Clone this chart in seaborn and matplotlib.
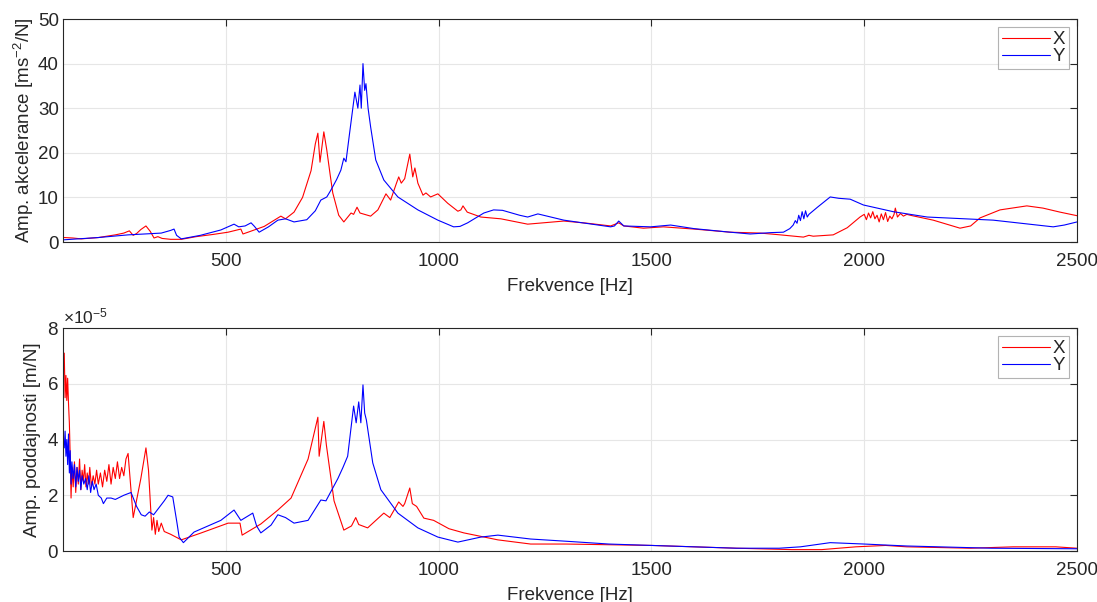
import numpy as np
import pandas as pd
import matplotlib
matplotlib.use("Agg")
import matplotlib.pyplot as plt
import seaborn as sns

# top panel - accelerance, X direction (red)
acc_x_f = [120, 140, 160, 200, 240, 260, 273, 282, 290, 300, 312, 322, 331, 340, 350, 370, 395, 430,
           470, 505, 535, 540, 552, 590, 629, 640, 660, 680, 700, 710, 716, 721, 730, 737, 745, 751,
           765, 777, 794, 800, 808, 815, 840, 857, 876, 887, 900, 906, 912, 920, 932, 939, 944, 951,
           963, 970, 981, 998, 1021, 1045, 1052, 1057, 1067, 1099, 1146, 1209, 1294, 1350, 1404,
           1423, 1435, 1481, 1528, 1600, 1685, 1756, 1803, 1857, 1870, 1880, 1927, 1960, 1990,
           2000, 2005, 2010, 2015, 2020, 2025, 2030, 2035, 2040, 2045, 2050, 2055, 2060, 2065, 2070,
           2073, 2078, 2085, 2092, 2100, 2108, 2162, 2225, 2250, 2272, 2319, 2382, 2420, 2460, 2500]
acc_x_v = [1.0, 0.9, 0.7, 1.0, 1.6, 2.0, 2.5, 1.5, 1.9, 2.8, 3.6, 2.4, 0.9, 1.2, 0.8, 0.6, 0.6, 1.2,
           1.7, 2.2, 2.9, 1.8, 2.2, 3.5, 5.8, 5.2, 6.7, 10.0, 16.0, 22.0, 24.4, 17.9, 24.7, 20.6, 15.0, 11.0,
           6.0, 4.5, 6.5, 6.2, 7.8, 6.5, 5.8, 7.2, 10.8, 9.4, 13.0, 14.6, 13.2, 14.2, 19.7, 14.6, 16.6, 13.2,
           10.5, 11.0, 10.1, 10.8, 8.7, 6.9, 7.2, 8.1, 6.7, 5.6, 5.2, 4.0, 4.7, 4.2, 3.6,
           4.3, 3.6, 3.1, 3.4, 2.9, 2.2, 2.0, 1.6, 1.1, 1.5, 1.3, 1.6, 3.2, 5.6,
           6.2, 5.0, 6.5, 5.4, 6.8, 5.2, 6.0, 4.5, 6.3, 5.0, 6.6, 4.6, 5.8, 5.2, 6.2,
           7.6, 5.6, 6.4, 5.8, 6.2, 6.0, 4.9, 3.1, 3.6, 5.4, 7.2, 8.1, 7.6, 6.7, 5.9]

# top panel - accelerance, Y direction (blue)
acc_y_f = [120, 200, 270, 348, 370, 378, 384, 395, 440, 488, 519, 530, 545, 559, 567, 578, 600, 622,
           640, 660, 690, 710, 723, 737, 747, 760, 770, 777, 782, 790, 803, 810, 815, 818, 822, 826,
           829, 834, 840, 852, 871, 904, 951, 998, 1035, 1050, 1068, 1106, 1129, 1150, 1190, 1209,
           1233, 1294, 1404, 1413, 1423, 1435, 1498, 1545, 1600, 1685, 1732, 1780, 1810, 1825, 1833,
           1838, 1842, 1846, 1850, 1854, 1858, 1862, 1866, 1870, 1890, 1920, 1940, 1967, 1998, 2068,
           2148, 2303, 2444, 2470, 2500]
acc_y_v = [0.5, 1.0, 1.6, 2.0, 2.6, 2.9, 1.5, 0.7, 1.5, 2.7, 4.0, 3.4, 3.6, 4.3, 3.5, 2.2, 3.4, 4.9,
           5.2, 4.5, 5.0, 7.0, 9.4, 10.1, 11.7, 14.0, 16.1, 18.8, 18.0, 24.0, 33.6, 30.0, 35.2, 30.0, 40.0, 34.0,
           35.5, 30.0, 25.8, 18.4, 13.9, 10.1, 7.2, 4.9, 3.4, 3.5, 4.3, 6.5, 7.2, 7.1, 6.0, 5.6,
           6.3, 4.9, 3.4, 3.6, 4.7, 3.6, 3.4, 3.8, 3.0, 2.2, 1.8, 2.1, 2.2, 3.0, 3.8,
           4.8, 4.2, 6.0, 4.8, 6.8, 5.2, 7.0, 5.6, 6.2, 7.8, 10.1, 9.8, 9.6, 8.3, 6.8,
           5.6, 4.9, 3.4, 3.8, 4.5]

# bottom panel - receptance (x1e-5 m/N), X direction
rec_x_f = [120, 122, 124, 126, 128, 130, 132, 134, 136, 138, 141, 144, 147, 150, 153, 156, 159, 162,
           165, 168, 171, 174, 177, 180, 184, 188, 192, 196, 200, 205, 210, 215, 220, 225, 230, 235,
           240, 245, 250, 255, 260, 265, 270, 282, 300, 312, 318, 326, 330, 334, 338, 342, 348, 355,
           370, 395, 442, 505, 533, 538, 582, 622, 653, 693, 716, 719, 730, 736, 754, 777, 795, 805,
           812, 833, 871, 885, 906, 916, 920, 932, 938, 948, 965, 988, 1024, 1059, 1139, 1216, 1300,
           1500, 1700, 1830, 1900, 1980, 2050, 2100, 2250, 2350, 2450, 2500]
rec_x_v = [7.1, 5.5, 6.3, 5.4, 6.2, 5.3, 4.6, 3.4, 1.9, 3.0, 2.3, 3.2, 2.1, 3.0, 2.4, 3.3, 2.2, 2.9,
           2.5, 3.1, 2.3, 2.8, 2.4, 3.0, 2.3, 2.7, 2.4, 2.9, 2.4, 2.8, 2.3, 2.9, 2.5, 3.1, 2.4, 3.0,
           2.6, 3.2, 2.6, 3.0, 2.7, 3.3, 3.5, 1.2, 2.6, 3.7, 2.9, 0.75, 1.2, 0.6, 1.1, 0.7, 1.0, 0.7,
           0.6, 0.4, 0.65, 1.0, 1.0, 0.57, 0.97, 1.47, 1.9, 3.3, 4.8, 3.4, 4.65, 3.8, 1.8, 0.75, 0.9, 1.2,
           0.95, 0.83, 1.36, 1.2, 1.76, 1.6, 1.7, 2.26, 1.7, 1.6, 1.18, 1.1, 0.8, 0.65, 0.4, 0.25, 0.25,
           0.2, 0.1, 0.05, 0.05, 0.15, 0.2, 0.15, 0.1, 0.15, 0.15, 0.1]

# bottom panel - receptance (x1e-5 m/N), Y direction
rec_y_f = [120, 122, 124, 126, 128, 130, 132, 134, 136, 138, 141, 144, 147, 150, 153, 156, 159, 162,
           166, 170, 174, 178, 182, 186, 190, 195, 200, 207, 212, 220, 230, 240, 260, 277, 290, 301,
           310, 320, 330, 340, 355, 364, 375, 385, 390, 400, 425, 488, 519, 535, 563, 572, 582, 606,
           622, 640, 660, 693, 723, 735, 763, 775, 786, 800, 806, 812, 817, 822, 826, 830, 845, 864,
           904, 951, 998, 1045, 1099, 1139, 1216, 1300, 1400, 1500, 1600, 1700, 1800, 1850, 1920,
           2000, 2100, 2300, 2500]
rec_y_v = [3.7, 4.3, 3.4, 4.0, 3.1, 4.2, 2.8, 3.6, 2.4, 3.2, 2.6, 3.1, 2.3, 3.0, 2.5, 2.9, 2.2, 2.7,
           2.4, 2.6, 2.2, 2.7, 2.1, 2.5, 2.2, 2.4, 2.0, 1.9, 1.7, 1.9, 1.9, 1.85, 2.0, 2.1, 1.6, 1.3,
           1.25, 1.4, 1.3, 1.5, 1.8, 2.0, 1.94, 1.0, 0.5, 0.3, 0.68, 1.1, 1.47, 1.1, 1.36, 0.9, 0.65, 0.93,
           1.3, 1.2, 1.0, 1.1, 1.83, 1.8, 2.6, 3.0, 3.4, 5.2, 4.6, 5.35, 4.6, 5.96, 4.95, 4.7, 3.16, 2.2,
           1.36, 0.83, 0.5, 0.32, 0.5, 0.57, 0.43, 0.35, 0.25, 0.2, 0.15, 0.1, 0.1, 0.15, 0.3,
           0.25, 0.18, 0.1, 0.08]

x_ticks = [500, 1000, 1500, 2000, 2500]
series_labels = ["X", "Y"]
RED = "#ff0000"
BLUE = "#0000ff"
EDGE = "#262626"
FS = 13.5

sns.set_theme(style="whitegrid")
plt.rcParams["font.family"] = ["Liberation Sans", "DejaVu Sans"]
plt.rcParams["mathtext.fontset"] = "custom"
plt.rcParams["mathtext.rm"] = "Liberation Sans"
plt.rcParams["mathtext.it"] = "Liberation Sans"

fig = plt.figure(figsize=(10.97, 6.02), dpi=100)
ax1 = fig.add_axes([0.0574, 0.598, 0.9244, 0.3704])
ax2 = fig.add_axes([0.0574, 0.0847, 0.9244, 0.3704])


def draw_panel(ax, fx, vx, fy, vy, scale=1.0):
    dx = pd.DataFrame({"f": fx, "v": np.array(vx) * scale})
    dy = pd.DataFrame({"f": fy, "v": np.array(vy) * scale})
    sns.lineplot(data=dx, x="f", y="v", color=RED, lw=0.8, label=series_labels[0],
                 estimator=None, sort=False, ax=ax)
    sns.lineplot(data=dy, x="f", y="v", color=BLUE, lw=0.8, label=series_labels[1],
                 estimator=None, sort=False, ax=ax)
    ax.set_xlim(117, 2500)
    ax.set_xticks(x_ticks)
    ax.set_xlabel("Frekvence [Hz]", fontsize=FS, color=EDGE, labelpad=6)
    ax.set_facecolor("white")
    ax.grid(True, color="#e6e6e6", lw=0.8)
    for sp in ax.spines.values():
        sp.set_color(EDGE)
        sp.set_linewidth(0.8)
    ax.tick_params(direction="in", top=True, right=True, length=5, width=0.8,
                   colors=EDGE, labelsize=FS)
    ax.tick_params(axis="x", pad=8)
    ax.tick_params(axis="y", pad=3)
    leg = ax.legend(loc="upper right", fontsize=FS, frameon=True, fancybox=False,
                    handlelength=2.6, handletextpad=0.1, borderpad=0.2, labelspacing=0.0,
                    borderaxespad=0.45)
    leg.get_frame().set_edgecolor("#a0a0a0")
    leg.get_frame().set_linewidth(0.8)


draw_panel(ax1, acc_x_f, acc_x_v, acc_y_f, acc_y_v)
ax1.set_ylim(0, 50)
ax1.set_yticks([0, 10, 20, 30, 40, 50])
ax1.set_ylabel("Amp. akcelerance [ms$^{-2}$/N]", fontsize=FS, color=EDGE, labelpad=1)

draw_panel(ax2, rec_x_f, rec_x_v, rec_y_f, rec_y_v, scale=1e-5)
ax2.set_ylim(0, 8e-5)
ax2.set_yticks([0, 2e-5, 4e-5, 6e-5, 8e-5])
ax2.ticklabel_format(style="sci", axis="y", scilimits=(0, 0), useMathText=True)
ax2.yaxis.get_offset_text().set_fontsize(12.5)
ax2.yaxis.get_offset_text().set_color(EDGE)
ax2.set_ylabel("Amp. poddajnosti [m/N]", fontsize=FS, color=EDGE, labelpad=4)

fig.savefig("out.png", dpi=100)
